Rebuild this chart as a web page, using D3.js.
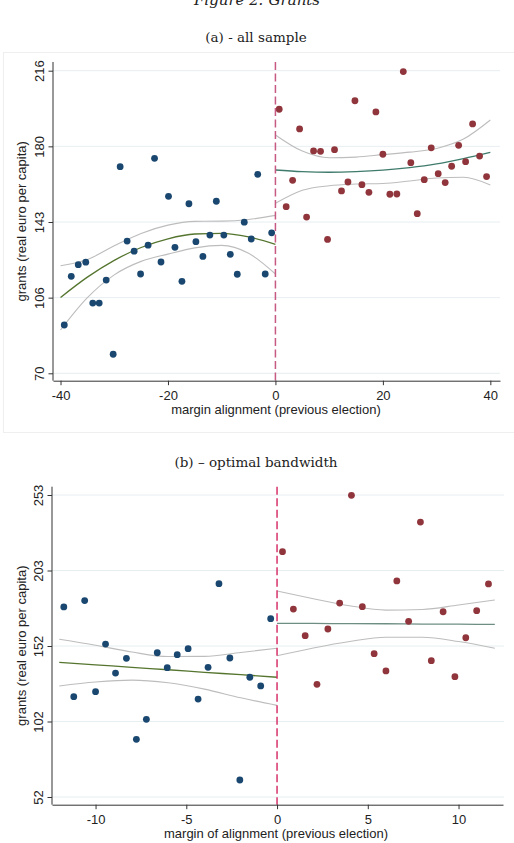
<!DOCTYPE html>
<html>
<head>
<meta charset="utf-8">
<script src="https://cdn.jsdelivr.net/npm/d3@7"></script>
<style>
body { margin: 0; background: #fff; }
</style>
</head>
<body>
<div id="graph"></div>
<script>
// panel (a) - all sample: binned means [margin, grants]
var leftA = [[-39.3, 93.3], [-38.0, 116.8], [-36.7, 122.4], [-35.3, 123.6], [-34.0, 103.9], [-32.8, 103.9],
    [-31.5, 115.0], [-30.2, 79.2], [-28.9, 169.7], [-27.6, 133.8], [-26.3, 128.9], [-25.1, 117.9],
    [-23.7, 131.8], [-22.5, 173.7], [-21.3, 123.7], [-19.9, 155.4], [-18.7, 130.8], [-17.4, 114.4],
    [-16.1, 151.8], [-14.8, 133.5], [-13.5, 126.4], [-12.2, 136.7], [-11.0, 153.0], [-9.6, 136.7],
    [-8.4, 127.4], [-7.1, 117.8], [-5.8, 142.9], [-4.5, 134.8], [-3.3, 166.0], [-1.9, 117.9], [-0.7, 137.8]];
var rightA = [[0.7, 197.4], [2.0, 150.4], [3.2, 163.1], [4.5, 187.9], [5.8, 145.4], [7.1, 177.3],
    [8.4, 177.1], [9.7, 134.6], [11.0, 177.9], [12.3, 158.0], [13.5, 162.3], [14.8, 201.5],
    [16.1, 161.0], [17.4, 157.3], [18.7, 196.1], [20.0, 175.7], [21.3, 156.4], [22.6, 156.5],
    [23.8, 215.6], [25.2, 171.6], [26.4, 147.0], [27.7, 163.4], [29.0, 178.8], [30.3, 166.3],
    [31.6, 162.0], [32.8, 169.9], [34.1, 180.0], [35.4, 172.1], [36.7, 190.3], [38.0, 174.8], [39.3, 164.9]];
// fitted polynomial and band: [margin, fit, lower, upper]
var fitLeftA = [[-40, 106.6, 90.9, 121.9], [-35, 116.4, 106.5, 124.9], [-30, 124.5, 117.5, 131.5],
    [-25, 130.7, 124.0, 137.5], [-20, 134.9, 127.5, 141.5], [-15, 137.2, 130.5, 143.3],
    [-10, 137.5, 131.7, 143.4], [-5, 135.8, 127.9, 144.2], [0, 132.2, 117.9, 146.2]];
var fitRightA = [[0, 168.1, 152.0, 185.0], [5, 167.3, 158.3, 177.2], [10, 167.0, 160.5, 174.0],
    [15, 167.3, 161.3, 174.3], [20, 168.0, 161.6, 175.5], [25, 169.2, 162.8, 176.7],
    [30, 171.0, 164.2, 178.5], [35, 173.6, 164.6, 183.0], [40, 176.6, 160.9, 192.2]];
var ticksYA = [70, 106.5, 143, 179.5, 216];
var labelsYA = ['70', '106', '143', '180', '216'];
var ticksXA = [-40, -20, 0, 20, 40];

// panel (b) - optimal bandwidth
var leftB = [[-11.75, 178.5], [-11.2, 118.8], [-10.6, 182.7], [-10.0, 122.1], [-9.45, 153.8], [-8.9, 134.5],
    [-8.3, 144.3], [-7.75, 90.4], [-7.2, 103.7], [-6.6, 148.0], [-6.05, 138.1], [-5.5, 146.7],
    [-4.9, 150.7], [-4.35, 117.2], [-3.8, 138.3], [-3.2, 194.0], [-2.6, 144.5], [-2.05, 63.3],
    [-1.5, 131.7], [-0.9, 125.9], [-0.35, 170.7]];
var rightB = [[0.3, 215.3], [0.9, 177.1], [1.55, 159.4], [2.2, 127.0], [2.8, 163.8], [3.45, 181.1],
    [4.1, 252.8], [4.7, 178.7], [5.35, 147.4], [6.0, 135.9], [6.6, 195.8], [7.25, 168.9],
    [7.9, 235.0], [8.5, 142.7], [9.15, 175.3], [9.8, 132.1], [10.4, 158.0], [11.0, 176.0], [11.65, 193.8]];
var fitLeftB = [[-12, 141.6, 125.9, 157.0], [-10, 140.0, 128.5, 153.0], [-8, 138.3, 129.8, 148.5],
    [-6, 136.7, 128.0, 145.5], [-4, 135.0, 123.8, 145.6], [-2, 133.4, 118.0, 148.2], [0, 131.7, 113.0, 151.0]];
var fitRightB = [[0, 167.6, 146.0, 189.1], [2, 167.5, 151.2, 184.0], [4, 167.4, 155.5, 179.3],
    [6, 167.3, 158.3, 176.4], [8, 167.1, 158.3, 176.8], [10, 167.0, 155.5, 179.8], [12, 166.9, 151.0, 183.1]];
var ticksYB = [52, 102.25, 152.5, 202.75, 253];
var labelsYB = ['52', '102', '152', '203', '253'];
var ticksXB = [-10, -5, 0, 5, 10];

var blue = '#1a476f',
    red = '#90353b',
    band = '#bdbdbd',
    sans = "'Liberation Sans', Arial, sans-serif",
    serif = "'DejaVu Serif', serif";

var svg = d3.select('#graph')
    .append('svg')
        .attr('width', 514)
        .attr('height', 843);

// titles (figure title sits clipped at the top edge, as in the source page)
svg.append('text')
    .attr('x', 257).attr('y', 4.5)
    .attr('text-anchor', 'middle')
    .style('font-family', serif).style('font-style', 'italic').style('font-size', '15px')
    .style('fill', '#222')
    .text('Figure 2: Grants');

// faint frame around panel (a)
svg.append('rect')
    .attr('x', 3.5).attr('y', 52.5).attr('width', 520).attr('height', 380)
    .style('fill', 'none').style('stroke', '#efefef');

function drawPanel(p) {
    svg.append('text')
        .attr('x', 256).attr('y', p.titleY)
        .attr('text-anchor', 'middle')
        .style('font-family', serif).style('font-size', '13.5px').style('fill', '#222')
        .text(p.title);

    var x = d3.scaleLinear().domain(p.xDomain).range([p.left, p.right]);
    var y = d3.scaleLinear().domain(p.yDomain).range(p.yRange);

    // grid
    svg.append('g')
        .selectAll('line')
        .data(p.ticksY)
        .enter().append('line')
        .attr('x1', p.left).attr('x2', p.gridRight)
        .attr('y1', function(d) { return y(d); })
        .attr('y2', function(d) { return y(d); })
        .style('stroke', '#e7eef1').style('stroke-width', 1);

    var lineOf = function(k) {
        return d3.line()
            .x(function(d) { return x(d[0]); })
            .y(function(d) { return y(d[k]); })
            .curve(d3.curveMonotoneX);
    };

    [[p.fitLeft, p.leftColor], [p.fitRight, p.rightColor]].forEach(function(f) {
        svg.append('path').datum(f[0]).attr('d', lineOf(2))
            .style('fill', 'none').style('stroke', band).style('stroke-width', 1.1);
        svg.append('path').datum(f[0]).attr('d', lineOf(3))
            .style('fill', 'none').style('stroke', band).style('stroke-width', 1.1);
        svg.append('path').datum(f[0]).attr('d', lineOf(1))
            .style('fill', 'none').style('stroke', f[1]).style('stroke-width', 1.3);
    });

    svg.append('g')
        .selectAll('circle')
        .data(p.left_pts)
        .enter().append('circle')
        .attr('cx', function(d) { return x(d[0]); })
        .attr('cy', function(d) { return y(d[1]); })
        .attr('r', 3.4)
        .style('fill', blue);
    svg.append('g')
        .selectAll('circle')
        .data(p.right_pts)
        .enter().append('circle')
        .attr('cx', function(d) { return x(d[0]); })
        .attr('cy', function(d) { return y(d[1]); })
        .attr('r', 3.4)
        .style('fill', red);

    // cutoff
    svg.append('line')
        .attr('x1', x(0)).attr('x2', x(0))
        .attr('y1', p.top).attr('y2', p.bottom)
        .style('stroke', p.cutColor).style('stroke-width', 1.5)
        .style('stroke-dasharray', '8,3.5');

    // y axis
    var yAxis = svg.append('g')
        .attr('transform', 'translate(' + p.left + ',0)')
        .call(d3.axisLeft(y).tickValues(p.ticksY)
            .tickFormat(function(d, i) { return p.labelsY[i]; })
            .tickSize(4.5));
    yAxis.select('.domain').remove();
    yAxis.append('line')
        .attr('x1', 0).attr('x2', 0).attr('y1', p.top).attr('y2', p.bottom)
        .style('stroke', '#333');
    yAxis.selectAll('.tick line').style('stroke', '#333');
    yAxis.selectAll('.tick text')
        .attr('x', 0).attr('y', -9.5).attr('dy', 0)
        .attr('transform', 'rotate(-90)')
        .attr('text-anchor', 'middle')
        .style('font-family', sans).style('font-size', '13px').style('fill', '#222');

    // x axis, plain hyphen for negatives as in the source
    var xAxis = svg.append('g')
        .attr('transform', 'translate(0,' + p.bottom + ')')
        .call(d3.axisBottom(x).tickValues(p.ticksX)
            .tickFormat(function(d) { return String(d); })
            .tickSize(4.5).tickSizeOuter(0));
    xAxis.select('.domain').style('stroke', '#333');
    xAxis.selectAll('.tick line').style('stroke', '#333');
    xAxis.selectAll('.tick text')
        .attr('y', 19.5).attr('dy', 0)
        .style('font-family', sans).style('font-size', '13px').style('fill', '#222');

    // labels
    svg.append('text')
        .attr('x', 276).attr('y', p.bottom + 33.5)
        .attr('text-anchor', 'middle')
        .style('font-family', sans).style('font-size', '13px').style('fill', '#222')
        .text(p.xLabel);
    svg.append('text')
        .attr('transform', 'translate(25.5,' + (p.top + p.bottom) / 2 + ') rotate(-90)')
        .attr('text-anchor', 'middle')
        .style('font-family', sans).style('font-size', '13px').style('fill', '#222')
        .text('grants (real euro per capita)');
}

drawPanel({
    title: '(a) - all sample', titleY: 41.5,
    left: 53, right: 500, gridRight: 500, top: 62, bottom: 380.7,
    xDomain: [-41.4, 41.8], yDomain: [70, 216], yRange: [373.3, 70.7],
    ticksY: ticksYA, labelsY: labelsYA, ticksX: ticksXA,
    left_pts: leftA, right_pts: rightA, fitLeft: fitLeftA, fitRight: fitRightA,
    leftColor: '#55752f', rightColor: '#3f7b6c', cutColor: '#c65a82',
    xLabel: 'margin alignment (previous election)'
});

drawPanel({
    title: '(b) \u2013 optimal bandwidth', titleY: 467,
    left: 52, right: 503, gridRight: 504, top: 486.7, bottom: 804.7,
    xDomain: [-12.4, 12.45], yDomain: [52, 253], yRange: [797, 495],
    ticksY: ticksYB, labelsY: labelsYB, ticksX: ticksXB,
    left_pts: leftB, right_pts: rightB, fitLeft: fitLeftB, fitRight: fitRightB,
    leftColor: '#55752f', rightColor: '#6e8e84', cutColor: '#d7336a',
    xLabel: 'margin of alignment (previous election)'
});
</script>
</body>
</html>
